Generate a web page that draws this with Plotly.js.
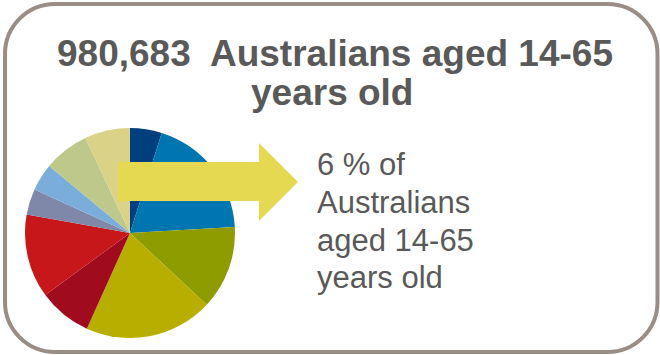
<!DOCTYPE html>
<html>
<head>
<meta charset="utf-8">
<script src="https://cdn.plot.ly/plotly-3.0.1.min.js"></script>
<style>html,body{margin:0;padding:0;background:#fff;}#chart{width:660px;height:355px;}</style>
</head>
<body>
<div id="chart"></div>
<script>
// Data
var sliceLabels = ["S1","S2","S3","S4","S5","S6","S7","S8","S9","S10"];
var sliceValues = [4.9, 19.2, 12.9, 19.8, 8.2, 12.9, 4.0, 4.2, 7.0, 7.0];
var sliceColors = ["#003F7D","#0076B0","#8E9C00","#B8AE00","#A00C1E","#C8171A","#7F88A9","#7BADDB","#BEC88B","#D9D287"];
var titleLines = ["980,683  Australians aged 14-65", "years old"];
var sideLines = ["6 % of", "Australians", "aged 14-65", "years old"];

var W = 660, H = 355;
function px(x){ return x / W; }
function py(y){ return 1 - y / H; }

// rounded rectangle frame
function roundRect(x0, y0, x1, y1, r){
  var k = 0.5523 * r;
  var p = [];
  p.push("M" + px(x0 + r) + "," + py(y0));
  p.push("L" + px(x1 - r) + "," + py(y0));
  p.push("C" + px(x1 - r + k) + "," + py(y0) + " " + px(x1) + "," + py(y0 + r - k) + " " + px(x1) + "," + py(y0 + r));
  p.push("L" + px(x1) + "," + py(y1 - r));
  p.push("C" + px(x1) + "," + py(y1 - r + k) + " " + px(x1 - r + k) + "," + py(y1) + " " + px(x1 - r) + "," + py(y1));
  p.push("L" + px(x0 + r) + "," + py(y1));
  p.push("C" + px(x0 + r - k) + "," + py(y1) + " " + px(x0) + "," + py(y1 - r + k) + " " + px(x0) + "," + py(y1 - r));
  p.push("L" + px(x0) + "," + py(y0 + r));
  p.push("C" + px(x0) + "," + py(y0 + r - k) + " " + px(x0 + r - k) + "," + py(y0) + " " + px(x0 + r) + "," + py(y0));
  p.push("Z");
  return p.join(" ");
}

function arrowPath(){
  var pts = [[118,162],[259,162],[259,143],[298,182],[259,221],[259,201],[118,201]];
  return "M" + pts.map(function(q){ return px(q[0]) + "," + py(q[1]); }).join(" L") + " Z";
}

var trace = {
  type: "pie",
  labels: sliceLabels,
  values: sliceValues,
  marker: { colors: sliceColors, line: { width: 0 } },
  sort: false,
  direction: "clockwise",
  rotation: 0,
  textinfo: "none",
  hoverinfo: "label+percent",
  showlegend: false,
  domain: { x: [px(25), px(235)], y: [py(338), py(128)] }
};

var annotations = [];
var titleY = [68, 107];
var titleX = [335, 332];
titleLines.forEach(function(t, i){
  annotations.push({
    text: "<b>" + t + "</b>", xref: "paper", yref: "paper",
    x: px(titleX[i]), y: py(titleY[i]), xanchor: "center", yanchor: "bottom",
    yshift: -8, showarrow: false,
    font: { family: "Liberation Sans, Arial, sans-serif", size: 37, color: "#595959" }
  });
});
var sideY = [177, 215, 253, 290];
sideLines.forEach(function(t, i){
  annotations.push({
    text: t, xref: "paper", yref: "paper",
    x: px(315), y: py(sideY[i]), xanchor: "left", yanchor: "bottom",
    yshift: -7, showarrow: false,
    font: { family: "Liberation Sans, Arial, sans-serif", size: 31, color: "#595959" }
  });
});

var layout = {
  width: W, height: H,
  margin: { l: 0, r: 0, t: 0, b: 0 },
  paper_bgcolor: "#ffffff",
  plot_bgcolor: "#ffffff",
  showlegend: false,
  shapes: [
    { type: "path", xref: "paper", yref: "paper", path: roundRect(5, 4, 657.5, 352, 50),
      line: { color: "#9A8D86", width: 4 }, fillcolor: "rgba(0,0,0,0)", layer: "below" },
    { type: "path", xref: "paper", yref: "paper", path: arrowPath(),
      line: { width: 0 }, fillcolor: "#E5D952", layer: "above" }
  ],
  annotations: annotations
};

Plotly.newPlot("chart", [trace], layout, { displayModeBar: false, staticPlot: true });
</script>
</body>
</html>
